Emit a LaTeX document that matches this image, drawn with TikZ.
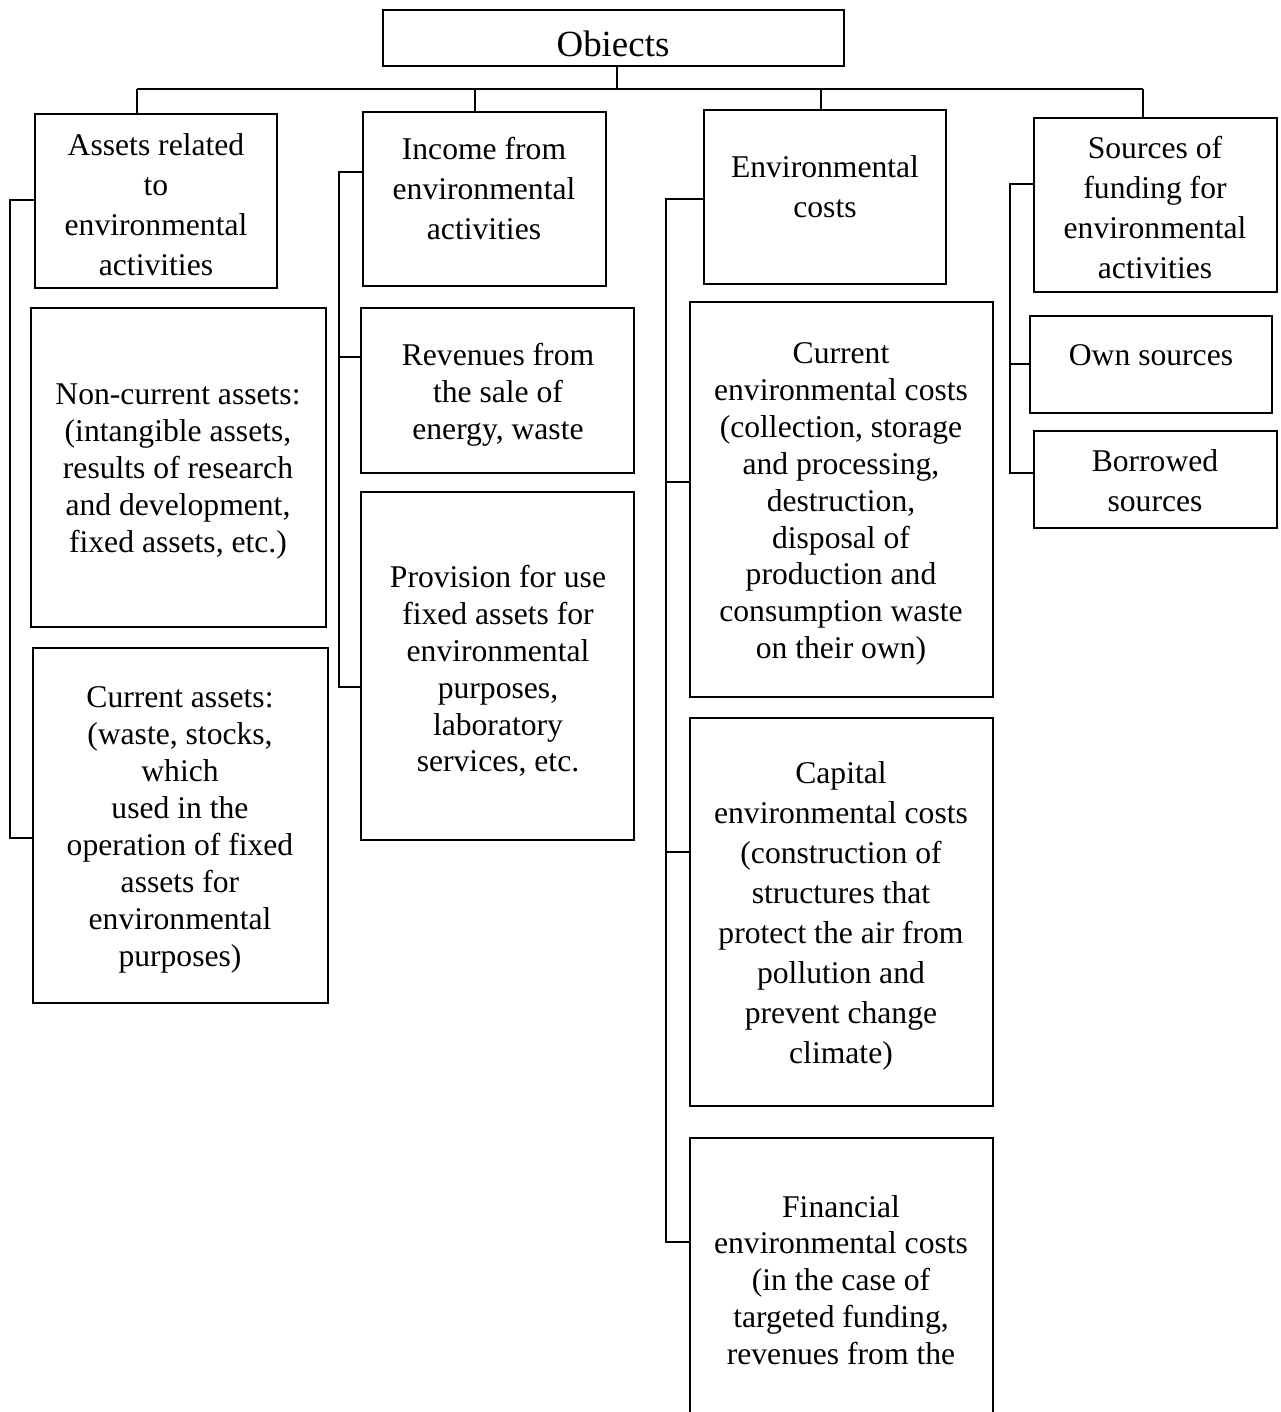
\documentclass[tikz,border=0pt]{standalone}
\usepackage{fontspec}
\setmainfont{Liberation Serif}
\usepackage{tikz}

\begin{document}
\begin{tikzpicture}
                     [x=0.2mm,y=-0.2mm,
                     box/.style={rectangle,draw,line width=1.1pt,inner sep=0pt},
                     txt/.style={align=center,inner sep=0pt,font=\fontsize{18}{21}\selectfont},
                     txtw/.style={align=center,inner sep=0pt,font=\fontsize{18}{22.8}\selectfont},
                     link/.style={line width=0.6pt}]
                     \useasboundingbox (0,0) rectangle (1280,1412);
                     % boxes
                     \node[box,minimum width=92.2mm,minimum height=11.2mm] (obj) at (613.5,38) {};
                     \node[box,minimum width=48.4mm,minimum height=34.8mm] (a) at (156,201) {};
                     \node[box,minimum width=59mm,minimum height=63.8mm] (a1) at (178.5,467.5) {};
                     \node[box,minimum width=59mm,minimum height=71mm] (a2) at (180.5,825.5) {};
                     \node[box,minimum width=48.6mm,minimum height=34.8mm] (b) at (484.5,199) {};
                     \node[box,minimum width=54.6mm,minimum height=33mm] (b1) at (497.5,390.5) {};
                     \node[box,minimum width=54.6mm,minimum height=69.6mm] (b2) at (497.5,666) {};
                     \node[box,minimum width=48.4mm,minimum height=34.8mm] (c) at (825,197) {};
                     \node[box,minimum width=60.6mm,minimum height=79mm] (c1) at (841.5,499.5) {};
                     \node[box,minimum width=60.6mm,minimum height=77.6mm] (c2) at (841.5,912) {};
                     \node[box,minimum width=60.6mm,minimum height=68.4mm] (c3) at (841.5,1309) {};
                     \node[box,minimum width=48.6mm,minimum height=34.8mm] (d) at (1155.5,205) {};
                     \node[box,minimum width=48.4mm,minimum height=19.4mm] (d1) at (1151,364.5) {};
                     \node[box,minimum width=48.6mm,minimum height=19.4mm] (d2) at (1155.5,479.5) {};
                     % texts
                     \node[txt,font=\fontsize{21}{24}\selectfont] (objt) at (613,44) {Obiects};
                     \node[txtw] (at) at (156,205) {Assets related\\to\\environmental\\activities};
                     \node[txt] (a1t) at (178,471.5) {Non-current assets:\\(intangible assets,\\results of research\\and development,\\fixed assets, etc.)};
                     \node[txt] (a2t) at (180,830) {Current assets:\\(waste, stocks,\\which\\used in the\\operation of fixed\\assets for\\environmental\\purposes)};
                     \node[txtw] (bt) at (484,188.5) {Income from\\environmental\\activities};
                     \node[txt] (b1t) at (498,395) {Revenues from\\the sale of\\energy, waste};
                     \node[txt] (b2t) at (498,671) {Provision for use\\fixed assets for\\environmental\\purposes,\\laboratory\\services, etc.};
                     \node[txtw] (ct) at (825,186.5) {Environmental\\costs};
                     \node[txt] (c1t) at (841,504) {Current\\environmental costs\\(collection, storage\\and processing,\\destruction,\\disposal of\\production and\\consumption waste\\on their own)};
                     \node[txtw] (c2t) at (841,916) {Capital\\environmental costs\\(construction of\\structures that\\protect the air from\\pollution and\\prevent change\\climate)};
                     \node[txt] (c3t) at (841,1280) {Financial\\environmental costs\\(in the case of\\targeted funding,\\revenues from the};
                     \node[txtw] (dt) at (1155,207.5) {Sources of\\funding for\\environmental\\activities};
                     \node[txt] (d1t) at (1151,355) {Own sources};
                     \node[txtw] (d2t) at (1155,481) {Borrowed\\sources};
                     % bus from the top box
                     \coordinate (bus) at (617,89);
                     \coordinate (busa) at (137,89);
                     \coordinate (busb) at (475,89);
                     \coordinate (busc) at (821,89);
                     \coordinate (busd) at (1143,89);
                     \draw[link] (bus |- obj.south) -- (bus);
                     \draw[link] (busa) -- (busd);
                     \foreach \p/\n in {busa/a, busb/b, busc/c, busd/d}
                        \draw[link] (\p) -- (\p |- \n.north);
                     % side lines
                     \coordinate (sa1) at (10,200);
                     \coordinate (sa2) at (10,838);
                     \draw[link] (a.west |- sa1) -- (sa1) -- (sa2) -- (a2.west |- sa2);
                     \coordinate (sb1) at (339,172);
                     \coordinate (sb2) at (339,357);
                     \coordinate (sb3) at (339,687);
                     \draw[link] (b.west |- sb1) -- (sb1) -- (sb3) -- (b2.west |- sb3);
                     \draw[link] (sb2) -- (b1.west |- sb2);
                     \coordinate (sc1) at (666,199);
                     \coordinate (sc2) at (666,482);
                     \coordinate (sc3) at (666,852);
                     \coordinate (sc4) at (666,1242);
                     \draw[link] (c.west |- sc1) -- (sc1) -- (sc4) -- (c3.west |- sc4);
                     \draw[link] (sc2) -- (c1.west |- sc2);
                     \draw[link] (sc3) -- (c2.west |- sc3);
                     \coordinate (sd1) at (1010,184);
                     \coordinate (sd2) at (1010,364);
                     \coordinate (sd3) at (1010,473);
                     \draw[link] (d.west |- sd1) -- (sd1) -- (sd3) -- (d2.west |- sd3);
                     \draw[link] (sd2) -- (d1.west |- sd2);
                   \end{tikzpicture}
\end{document}
